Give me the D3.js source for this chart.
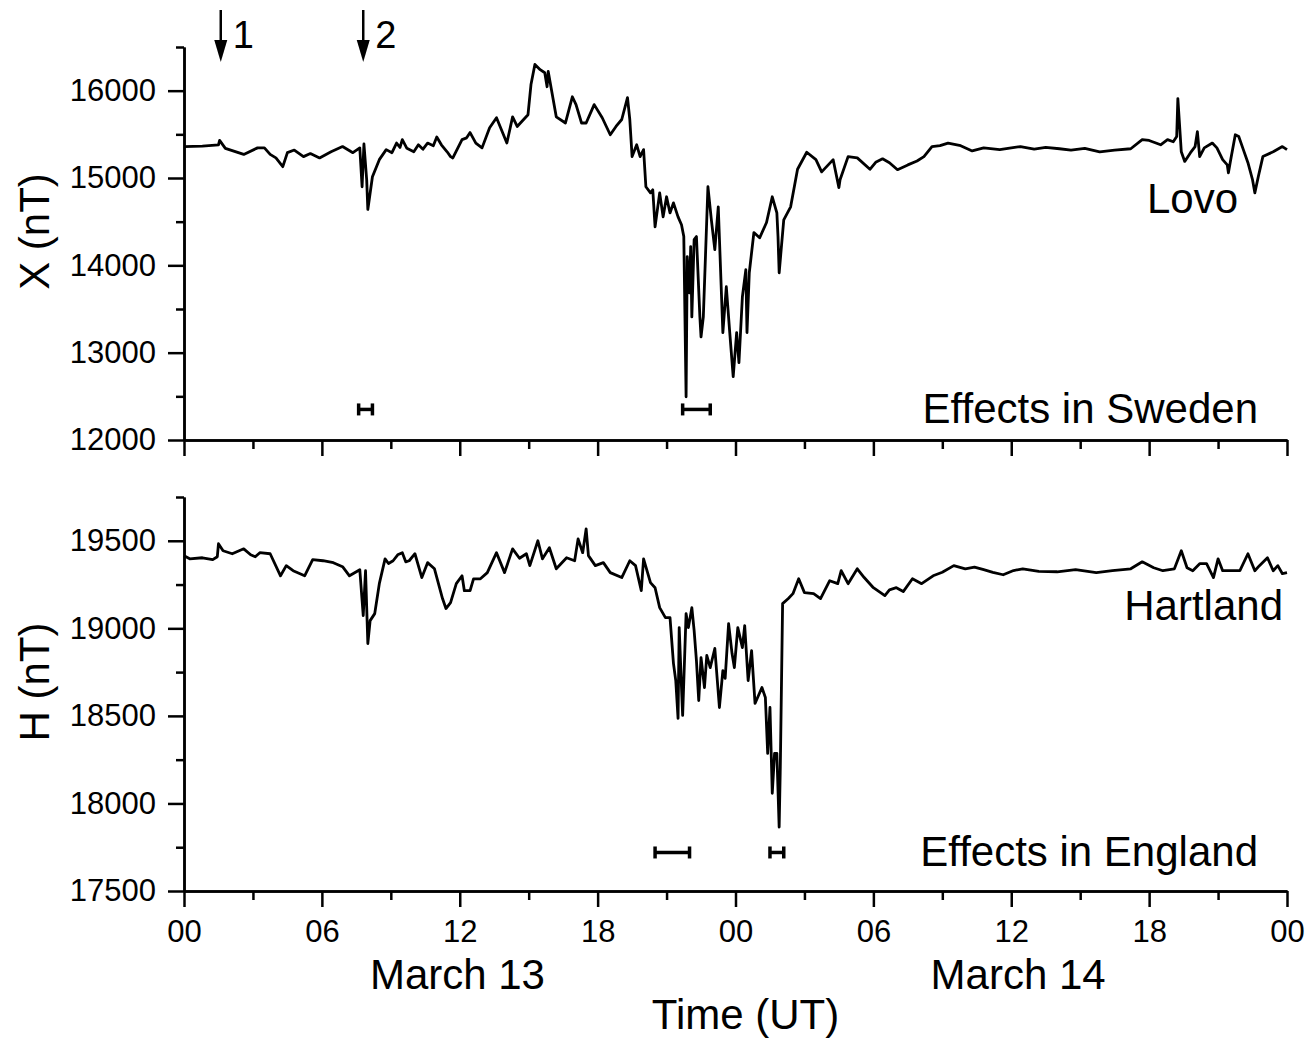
<!DOCTYPE html>
<html>
<head>
<meta charset="utf-8">
<script src="https://cdn.jsdelivr.net/npm/d3@7"></script>
<style>
  body { margin: 0; background: #fff; }
  svg { font-family: 'Liberation Sans', Arial, sans-serif; }
</style>
</head>
<body>
<div id="chart"></div>
<script>
// Lovo X component (nT): [hours since 00 UT March 13, value]
const lovo = [
  [0, 15359], [0.8, 15365], [1.5, 15380], [1.55, 15430], [1.8, 15340], [2.6, 15270], [3.2, 15345],
  [3.5, 15345], [3.75, 15270], [4.0, 15230], [4.3, 15130], [4.5, 15290], [4.8, 15320], [5.2, 15245],
  [5.5, 15280], [5.9, 15230], [6.4, 15300], [6.9, 15360], [7.35, 15290], [7.65, 15345], [7.75, 14900],
  [7.83, 15390], [7.95, 14980], [8.0, 14640], [8.2, 15015], [8.5, 15210], [8.8, 15325], [9.05, 15290],
  [9.25, 15400], [9.4, 15350], [9.5, 15440], [9.7, 15340], [10.0, 15300], [10.2, 15380], [10.4, 15330],
  [10.6, 15400], [10.85, 15370], [11.0, 15470], [11.2, 15380], [11.45, 15300], [11.6, 15245], [11.7, 15230],
  [12.1, 15440], [12.3, 15460], [12.45, 15520], [12.7, 15400], [12.97, 15345], [13.3, 15575], [13.6, 15690],
  [14.05, 15400], [14.3, 15700], [14.5, 15590], [14.97, 15725], [15.1, 16070], [15.27, 16300], [15.5, 16240],
  [15.7, 16205], [15.8, 16045], [15.85, 16220], [16.2, 15700], [16.6, 15630], [16.9, 15930], [17.06, 15840],
  [17.3, 15630], [17.5, 15630], [17.85, 15840], [18.2, 15690], [18.55, 15495], [18.8, 15590], [19.05, 15670],
  [19.3, 15920], [19.4, 15670], [19.5, 15245], [19.7, 15380], [19.85, 15245], [20.0, 15325], [20.1, 14900],
  [20.3, 14830], [20.4, 14865], [20.5, 14440], [20.7, 14830], [20.85, 14555], [21.0, 14785], [21.15, 14600],
  [21.3, 14715], [21.5, 14555], [21.65, 14465], [21.75, 14330], [21.85, 12495], [21.9, 14100], [22.0, 13685],
  [22.05, 14215], [22.1, 13410], [22.2, 14295], [22.3, 14330], [22.45, 13410], [22.5, 13180], [22.6, 13410],
  [22.8, 14900], [22.95, 14520], [23.1, 14180], [23.25, 14670], [23.45, 13230], [23.6, 13755], [23.75, 13230],
  [23.9, 12725], [24.05, 13230], [24.15, 12885], [24.3, 13640], [24.45, 13950], [24.5, 13230], [24.6, 13915],
  [24.8, 14375], [25.05, 14315], [25.35, 14490], [25.6, 14785], [25.8, 14600], [25.85, 14330], [25.9, 13915],
  [26.1, 14520], [26.4, 14670], [26.7, 15100], [27.1, 15295], [27.5, 15210], [27.75, 15070], [28.25, 15210],
  [28.5, 14890], [28.55, 14980], [28.9, 15245], [29.3, 15230], [29.85, 15100], [30.1, 15180], [30.4, 15220],
  [30.7, 15175], [31.05, 15095], [31.5, 15150], [31.9, 15195], [32.2, 15245], [32.55, 15360], [32.9, 15370],
  [33.25, 15400], [33.8, 15370], [34.3, 15310], [34.8, 15345], [35.5, 15325], [36.0, 15345], [36.4, 15360],
  [37.0, 15330], [37.5, 15350], [38.1, 15335], [38.6, 15320], [39.2, 15340], [39.85, 15300], [40.5, 15320],
  [41.2, 15335], [41.7, 15440], [42.0, 15430], [42.5, 15380], [42.8, 15440], [43.05, 15415], [43.2, 15475],
  [43.25, 15910], [43.4, 15300], [43.55, 15190], [43.8, 15290], [44.0, 15360], [44.1, 15530], [44.2, 15245],
  [44.4, 15345], [44.75, 15400], [44.95, 15345], [45.2, 15210], [45.4, 15150], [45.45, 15060], [45.55, 15210],
  [45.75, 15495], [45.9, 15475], [46.1, 15325], [46.3, 15175], [46.5, 14980], [46.6, 14830], [46.75, 15015],
  [46.95, 15245], [47.4, 15300], [47.8, 15360], [48.0, 15325]
];

// Hartland H component (nT)
const hartland = [
  [0, 19415], [0.25, 19397], [0.8, 19403], [1.25, 19392], [1.45, 19409], [1.5, 19483], [1.7, 19443],
  [2.1, 19426], [2.6, 19454], [2.9, 19420], [3.1, 19409], [3.3, 19432], [3.75, 19426], [4.2, 19300],
  [4.45, 19358], [4.75, 19329], [5.25, 19300], [5.6, 19392], [6.05, 19386], [6.5, 19375], [6.9, 19352],
  [7.2, 19300], [7.65, 19335], [7.8, 19073], [7.9, 19329], [8.0, 18913], [8.1, 19044], [8.3, 19084],
  [8.5, 19255], [8.75, 19397], [8.9, 19370], [9.1, 19386], [9.3, 19420], [9.5, 19432], [9.65, 19380],
  [9.8, 19386], [10.05, 19426], [10.35, 19290], [10.6, 19375], [10.9, 19340], [11.25, 19170], [11.4, 19113],
  [11.6, 19147], [11.85, 19255], [12.1, 19300], [12.2, 19215], [12.45, 19215], [12.6, 19283], [12.9, 19283],
  [13.2, 19318], [13.6, 19432], [13.95, 19318], [14.3, 19454], [14.6, 19400], [14.9, 19426], [15.05, 19358],
  [15.4, 19500], [15.6, 19397], [15.9, 19460], [16.2, 19340], [16.65, 19403], [17.0, 19386], [17.15, 19511],
  [17.35, 19432], [17.5, 19568], [17.6, 19415], [17.9, 19358], [18.25, 19375], [18.55, 19318], [19.05, 19290],
  [19.4, 19386], [19.65, 19358], [19.9, 19215], [20.0, 19397], [20.3, 19261], [20.5, 19232], [20.7, 19118],
  [20.95, 19061], [21.15, 19061], [21.3, 18800], [21.4, 18702], [21.5, 18486], [21.55, 19004], [21.65, 18662],
  [21.7, 18503], [21.85, 19084], [21.95, 19004], [22.1, 19118], [22.2, 18987], [22.3, 18816], [22.4, 18588],
  [22.5, 18833], [22.65, 18662], [22.75, 18845], [22.9, 18776], [23.1, 18885], [23.3, 18548], [23.45, 18759],
  [23.55, 18714], [23.7, 19027], [23.85, 18856], [23.95, 18776], [24.1, 19004], [24.3, 18890], [24.4, 19016],
  [24.55, 18702], [24.7, 18873], [24.85, 18571], [25.15, 18662], [25.3, 18605], [25.4, 18286], [25.5, 18548],
  [25.6, 18058], [25.7, 18286], [25.8, 18286], [25.9, 17865], [25.95, 18207], [26.05, 19141], [26.3, 19170],
  [26.5, 19198], [26.75, 19283], [27.0, 19204], [27.4, 19198], [27.7, 19170], [28.1, 19272], [28.45, 19255],
  [28.6, 19329], [28.9, 19255], [29.3, 19340], [29.6, 19290], [30.0, 19232], [30.5, 19187], [30.7, 19220],
  [31.0, 19232], [31.3, 19210], [31.7, 19283], [32.1, 19255], [32.6, 19300], [33.0, 19320], [33.5, 19358],
  [34.0, 19340], [34.4, 19350], [34.8, 19335], [35.2, 19320], [35.65, 19306], [36.1, 19330], [36.5, 19340],
  [37.2, 19325], [38.0, 19323], [38.8, 19335], [39.7, 19318], [40.4, 19330], [41.2, 19340], [41.7, 19380],
  [42.2, 19346], [42.6, 19329], [43.1, 19340], [43.4, 19443], [43.65, 19346], [43.9, 19329], [44.2, 19369],
  [44.5, 19369], [44.8, 19290], [45.0, 19397], [45.2, 19329], [45.65, 19329], [45.95, 19329], [46.3, 19426],
  [46.6, 19329], [46.8, 19358], [47.15, 19403], [47.4, 19329], [47.6, 19358], [47.8, 19312], [48.0, 19318]
];

// effect intervals (hours) and their drawing level (nT)
const swedenEffects = [[7.6, 8.2], [21.7, 22.9]];
const swedenLevel = 12350;
const englandEffects = [[20.5, 22.0], [25.5, 26.1]];
const englandLevel = 17720;

// event arrows
const arrowHours = [1.6, 7.8];
const arrowLabels = ['1', '2'];

const xTicks = [0, 6, 12, 18, 24, 30, 36, 42, 48];
const xTickLabels = ['00', '06', '12', '18', '00', '06', '12', '18', '00'];
const xMinor = [3, 9, 15, 21, 27, 33, 39, 45];
const dayLabels = ['March 13', 'March 14'];
const dayHours = [11.9, 36.3];

const lovoTicks = [12000, 13000, 14000, 15000, 16000];
const lovoMinor = [12500, 13500, 14500, 15500, 16500];
const hartTicks = [17500, 18000, 18500, 19000, 19500];
const hartMinor = [17750, 18250, 18750, 19250, 19750];

const W = 1312, H = 1040;
const svg = d3.select('#chart').append('svg').attr('width', W).attr('height', H);

const x = d3.scaleLinear().domain([0, 48]).range([184, 1287]);
const yTop = d3.scaleLinear().domain([12000, 16500]).range([440, 47]);
const yBot = d3.scaleLinear().domain([17500, 19750]).range([891, 497]);

const tickFont = '31px';
const bigFont = '42px';

function styleAxis(g) {
  g.select('.domain').attr('stroke', '#000').attr('stroke-width', 2.5);
  g.selectAll('.tick line').attr('stroke', '#000').attr('stroke-width', 2.5);
  g.selectAll('.tick text').attr('fill', '#000').style('font-size', tickFont).style('font-family', "'Liberation Sans', Arial, sans-serif");
}

function drawPanel(yScale, series, major, minor, showXLabels, yTitle, station, effectText, effects, level) {
  const x0 = x.range()[0];
  const yBase = yScale.range()[0];

  // minor ticks first
  svg.append('g')
    .attr('transform', `translate(${x0},0)`)
    .call(d3.axisLeft(yScale).tickValues(minor).tickSize(8).tickFormat('').tickSizeOuter(0))
    .call(styleAxis);
  svg.append('g')
    .attr('transform', `translate(${x0},0)`)
    .call(d3.axisLeft(yScale).tickValues(major).tickSize(16).tickPadding(12).tickFormat(d3.format('d')).tickSizeOuter(0))
    .call(styleAxis);

  svg.append('g')
    .attr('transform', `translate(0,${yBase})`)
    .call(d3.axisBottom(x).tickValues(xMinor).tickSize(9).tickFormat('').tickSizeOuter(0))
    .call(styleAxis);
  svg.append('g')
    .attr('transform', `translate(0,${yBase})`)
    .call(d3.axisBottom(x).tickValues(xTicks).tickSize(16).tickPadding(13)
      .tickFormat((d, i) => showXLabels ? xTickLabels[i] : '').tickSizeOuter(0))
    .call(styleAxis);

  // the series
  const line = d3.line().x((d) => x(d[0])).y((d) => yScale(d[1]));
  svg.append('path')
    .datum(series)
    .attr('fill', 'none')
    .attr('stroke', '#000')
    .attr('stroke-width', 2.8)
    .attr('stroke-linejoin', 'round')
    .attr('d', line);

  // effect intervals
  effects.forEach((e) => {
    const g = svg.append('g').attr('stroke', '#000').attr('stroke-width', 3.5);
    g.append('line').attr('x1', x(e[0])).attr('x2', x(e[1])).attr('y1', yScale(level)).attr('y2', yScale(level));
    e.forEach((h) => {
      g.append('line').attr('x1', x(h)).attr('x2', x(h))
        .attr('y1', yScale(level) - 6).attr('y2', yScale(level) + 6);
    });
  });

  // labels
  const yMid = (yScale.range()[0] + yScale.range()[1]) / 2;
  svg.append('text')
    .attr('transform', `translate(49,${yMid - 12}) rotate(-90)`)
    .attr('text-anchor', 'middle')
    .style('font-size', bigFont)
    .text(yTitle);

  svg.append('text')
    .attr('x', station.x).attr('y', station.y)
    .attr('text-anchor', 'end')
    .style('font-size', bigFont)
    .text(station.name);

  svg.append('text')
    .attr('x', 1258).attr('y', yScale(level) + 14)
    .attr('text-anchor', 'end')
    .style('font-size', bigFont)
    .text(effectText);
}

drawPanel(yTop, lovo, lovoTicks, lovoMinor, false, 'X (nT)',
  { name: 'Lovo', x: 1238, y: 213 }, 'Effects in Sweden', swedenEffects, swedenLevel);
drawPanel(yBot, hartland, hartTicks, hartMinor, true, 'H (nT)',
  { name: 'Hartland', x: 1283, y: 620 }, 'Effects in England', englandEffects, englandLevel);

// day labels and axis title
dayLabels.forEach((d, i) => {
  svg.append('text')
    .attr('x', x(dayHours[i]))
    .attr('y', 989)
    .attr('text-anchor', 'middle')
    .style('font-size', bigFont)
    .text(d);
});
svg.append('text')
  .attr('x', x(24) + 10)
  .attr('y', 1029)
  .attr('text-anchor', 'middle')
  .style('font-size', bigFont)
  .text('Time (UT)');

// event arrows
arrowHours.forEach((h, i) => {
  const ax = x(h);
  svg.append('line')
    .attr('x1', ax).attr('x2', ax).attr('y1', 10).attr('y2', 45)
    .attr('stroke', '#000').attr('stroke-width', 2.5);
  svg.append('path')
    .attr('d', `M${ax - 6.5},40 L${ax + 6.5},40 L${ax},62 Z`)
    .attr('fill', '#000');
  svg.append('text')
    .attr('x', ax + 12).attr('y', 48)
    .style('font-size', '38px')
    .text(arrowLabels[i]);
});
</script>
</body>
</html>
